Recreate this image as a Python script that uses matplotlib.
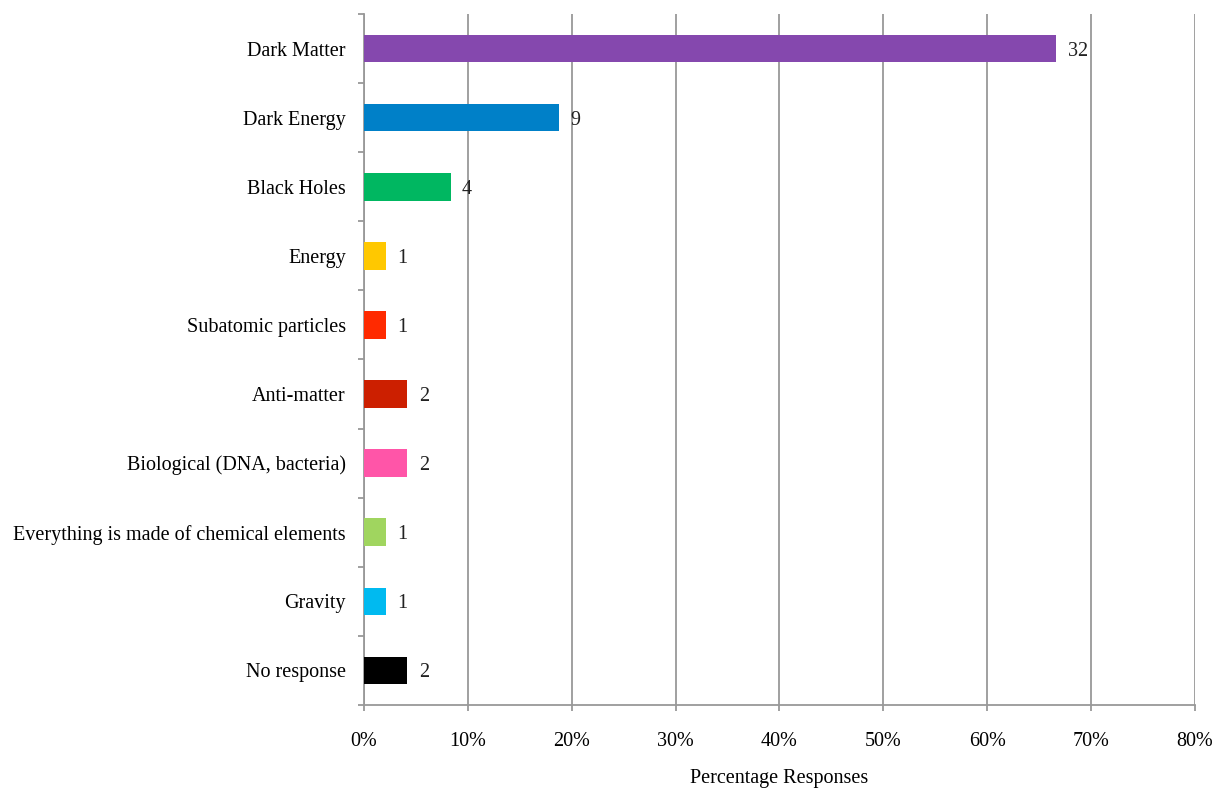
import matplotlib.pyplot as plt
import numpy as np

# respostas por categoria (total de 48 respondentes)
categorias = [
    "Dark Matter",
    "Dark Energy",
    "Black Holes",
    "Energy",
    "Subatomic particles",
    "Anti-matter",
    "Biological (DNA, bacteria)",
    "Everything is made of chemical elements",
    "Gravity",
    "No response",
]
contagens = [32, 9, 4, 1, 1, 2, 2, 1, 1, 2]
total = 48
cores = ["#8548AE", "#0080C8", "#00B761", "#FFC800", "#FF2A00",
         "#CC1F00", "#FF55A8", "#A0D55F", "#00BAF0", "#000000"]
ticks_x = [0, 10, 20, 30, 40, 50, 60, 70, 80]

percentuais = [c / total * 100 for c in contagens]

plt.rcParams['font.family'] = ['Liberation Serif', 'DejaVu Serif']
fs = 14.5

fig = plt.figure(figsize=(12.14, 7.89), dpi=100)
ax = fig.add_axes([0.2998, 0.1065, 0.6845, 0.8758])

pos = np.arange(len(categorias))
ax.barh(pos, percentuais, height=0.4, color=cores, zorder=3)

for p, v, c in zip(pos, percentuais, contagens):
    ax.text(v + 1.1, p, str(c), va="center_baseline", ha="left", fontsize=fs, color="#222222")

ax.set_ylim(len(categorias) - 0.5, -0.5)
ax.set_xlim(0, 80)

ax.set_yticks(pos)
ax.set_yticklabels(categorias, fontsize=fs)
ax.set_yticks(np.arange(-0.5, len(categorias) + 0.5, 1), minor=True)
ax.tick_params(axis="y", which="major", length=0, pad=13)
ax.tick_params(axis="y", which="minor", length=4.5, color="#999999", width=1.3)

ax.set_xticks(ticks_x)
ax.set_xticklabels([f"{t}%" for t in ticks_x], fontsize=fs)
ax.tick_params(axis="x", length=4.5, color="#999999", width=1.3, pad=15)
ax.grid(axis="x", color="#999999", linewidth=1.3, zorder=0)

for lado in ["top", "right"]:
    ax.spines[lado].set_visible(False)
for lado in ["left", "bottom"]:
    ax.spines[lado].set_color("#999999")
    ax.spines[lado].set_linewidth(1.3)

ax.set_xlabel("Percentage Responses", fontsize=fs, labelpad=13)

plt.savefig("out.png")
plt.close()
